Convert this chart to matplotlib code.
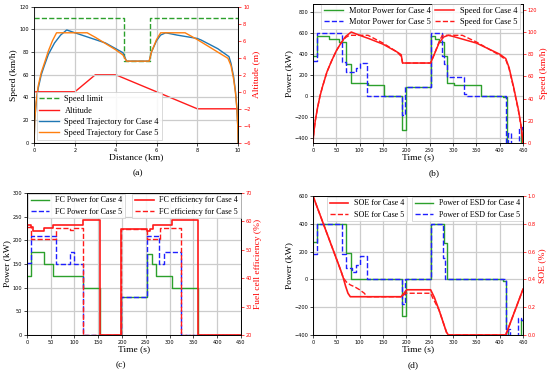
import numpy as np
import matplotlib.pyplot as plt

# ---------------- data ----------------
# (a) speed profile vs distance
lim_x = [0, 4.42, 4.42, 5.70, 5.70, 10]
lim_v = [110, 110, 72, 72, 110, 110]
alt_x = [0, 2, 3, 4, 8, 10]
alt_h = [0, 0, 2, 2, -2, -2]
v4_x = [0, 0.03, 0.1, 0.2, 0.35, 0.5, 0.7, 1.0, 1.3, 1.6, 2.0, 2.5, 3.0, 3.5, 4.0, 4.35,
        4.53, 5.64, 5.75, 6.0, 6.2, 6.45, 7.0, 8.0, 8.2, 9.0, 9.55, 9.65, 9.78, 9.87, 9.94, 9.98, 10]
v4_v = [0, 20, 35, 48, 60, 68, 78, 88, 95, 99.5, 97, 94, 91, 88, 83, 79.5,
        72, 72, 80, 90, 95, 97, 95, 92, 90.5, 83, 76, 70, 58, 45, 30, 15, 0]
v5_x = [0, 0.03, 0.1, 0.2, 0.35, 0.5, 0.7, 0.9, 1.1, 2.6, 3.0, 4.0, 4.35,
        4.53, 5.64, 5.75, 6.0, 6.2, 7.4, 8.0, 9.5, 9.65, 9.78, 9.87, 9.94, 9.98, 10]
v5_v = [0, 20, 36, 50, 62, 70, 81, 90, 97, 97, 93, 82, 77.5,
        72, 72, 80, 91, 97, 97, 91, 74.5, 68, 56, 44, 30, 15, 0]

# (b) motor power (step edges / levels) and speed vs time
mp4_t = [0, 8, 35, 55, 70, 81, 117, 153, 190, 200, 252, 262, 270, 280, 288, 303, 360, 408, 415, 445, 450]
mp4_p = [380, 565, 540, 515, 305, 125, 100, 0, -330, 80, 565, 540, 515, 375, 125, 100, 0, -10, -460, -320]
mp5_t = [0, 8, 62, 70, 92, 101, 116, 190, 198, 252, 277, 281, 288, 323, 330, 413, 418, 425, 441, 447, 450]
mp5_p = [330, 600, 320, 230, 260, 315, 0, -180, 80, 600, 380, 300, 180, 20, 0, -460, -350, -460, -300, -340]
sp4_t = [0, 2, 5, 10, 15, 20, 30, 40, 50, 60, 70, 82, 100, 120, 150, 180, 189, 192, 252,
         260, 270, 280, 290, 300, 350, 400, 413, 420, 430, 440, 446, 450]
sp4_v = [0, 10, 20, 32, 42, 50, 64, 74, 83, 90, 96, 100, 97, 94, 89, 82, 79.5, 72, 72,
         80, 90, 95.5, 97, 96, 90, 80, 76, 68, 50, 30, 15, 0]
sp5_t = [0, 2, 5, 10, 15, 20, 30, 40, 50, 60, 70, 78, 118, 150, 180, 189, 192, 252,
         260, 270, 277, 320, 350, 400, 413, 420, 430, 440, 446, 450]
sp5_v = [0, 10, 20, 32, 42, 50, 64, 74, 83, 90, 95, 97, 97, 90, 82, 78, 72, 72,
         80, 91, 97, 97, 91, 79, 75, 67, 49, 29, 14, 0]

# (c) fuel cell power and efficiency (step edges / levels)
fc4_t = [0, 8, 35, 55, 117, 153, 197, 252, 262, 272, 305, 360, 450]
fc4_p = [125, 175, 150, 125, 100, 0, 80, 172, 150, 125, 100, 0]
fc5_t = [0, 8, 62, 90, 100, 117, 197, 252, 278, 288, 325, 450]
fc5_p = [152, 210, 150, 176, 150, 0, 81, 210, 150, 176, 0]
ef4_t = [0, 8, 12, 35, 55, 117, 153, 197, 252, 258, 265, 305, 360, 450]
ef4_e = [58.6, 58.0, 56.6, 57.5, 58.8, 60.3, 20, 57.4, 56.5, 57.4, 58.8, 60.3, 20]
ef5_t = [0, 8, 62, 90, 100, 117, 197, 252, 280, 325, 450]
ef5_e = [58.0, 53.6, 57.7, 57.1, 57.7, 20, 57.4, 53.6, 57.6, 20]

# (d) ESD power (step edges / levels) and SOE
es4_t = [0, 8, 70, 81, 190, 200, 252, 280, 288, 408, 413, 417, 445, 450]
es4_p = [265, 400, 190, 0, -265, 0, 400, 260, 0, -10, -360, -420, -295]
es5_t = [0, 8, 62, 70, 84, 92, 100, 116, 190, 198, 252, 278, 283, 413, 418, 422, 440, 445, 450]
es5_p = [180, 400, 180, 82, 55, 100, 165, 0, -180, 0, 400, 155, 0, -420, -360, -420, -280, -290]
soe4_t = [0, 20, 40, 60, 65, 70, 75, 80, 189, 201, 252, 260, 270, 280, 286, 290, 413, 450]
soe4_s = [1.0, 0.82, 0.64, 0.46, 0.41, 0.35, 0.30, 0.275, 0.275, 0.325, 0.325, 0.27, 0.18, 0.08, 0.02, 0.0, 0.0, 0.33]
soe5_t = [0, 20, 40, 60, 65, 72, 80, 90, 100, 110, 116, 189, 199, 252, 256, 270, 280, 286, 290, 413, 450]
soe5_s = [1.0, 0.82, 0.64, 0.46, 0.41, 0.38, 0.36, 0.345, 0.325, 0.30, 0.275, 0.275, 0.30, 0.30, 0.27, 0.18, 0.08, 0.02, 0.0, 0.0, 0.33]

GREEN = '#2ca02c'
BLUE = '#1f1fff'
RED = '#ff1a1a'
SERIF = ['Liberation Serif', 'DejaVu Serif']

plt.rcParams['font.family'] = 'DejaVu Sans'
plt.rcParams['xtick.labelsize'] = 3.6
plt.rcParams['ytick.labelsize'] = 3.6
plt.rcParams['xtick.major.size'] = 2
plt.rcParams['ytick.major.size'] = 2
plt.rcParams['xtick.major.width'] = 0.5
plt.rcParams['ytick.major.width'] = 0.5
plt.rcParams['xtick.major.pad'] = 1.5
plt.rcParams['ytick.major.pad'] = 1.5
plt.rcParams['axes.linewidth'] = 0.6

fig = plt.figure(figsize=(5.5, 3.72), dpi=100)


def steps(ax, t, v, **kw):
    # t holds the edges, v the level of each interval
    return ax.step(t, list(v) + [v[-1]], where='post', **kw)


def style(ax, axr, xlabel, ylabel, rlabel):
    ax.grid(True, color='#cccccc', linewidth=0.9)
    ax.set_axisbelow(True)
    ax.set_xlabel(xlabel, fontsize=6.8, family=SERIF, labelpad=0.5)
    ax.set_ylabel(ylabel, fontsize=6.8, family=SERIF, labelpad=1)
    axr.set_ylabel(rlabel, fontsize=6.8, family=SERIF, color='red', labelpad=1.5)
    axr.tick_params(axis='y', colors='red', labelcolor='red')
    axr.spines['right'].set_color('black')


def legend(ax, loc, anchor, handles=None, size=6.0):
    kw = dict(loc=loc, bbox_to_anchor=anchor, prop={'family': SERIF, 'size': size},
              handlelength=2.3, borderpad=0.35, labelspacing=0.4, handletextpad=0.7,
              borderaxespad=0.0, fancybox=False, framealpha=0.85, edgecolor='#cccccc')
    if handles is not None:
        lg = ax.legend(handles, [h.get_label() for h in handles], **kw)
    else:
        lg = ax.legend(**kw)
    lg.get_frame().set_linewidth(0.6)
    return lg


# ---------------- (a) ----------------
ax = fig.add_axes([0.062, 0.616, 0.371, 0.366])
axr = ax.twinx()
l1, = ax.plot(lim_x, lim_v, '--', color=GREEN, lw=1.0, label='Speed limit')
l2, = axr.plot(alt_x, alt_h, color=RED, lw=1.0, label='Altitude')
l3, = ax.plot(v4_x, v4_v, color='#1f77b4', lw=1.0, label='Speed Trajectory for Case 4')
l4, = ax.plot(v5_x, v5_v, color='#ff7f0e', lw=1.0, label='Speed Trajectory for Case 5')
ax.set_xlim(0, 10)
ax.set_ylim(0, 120)
axr.set_ylim(-6, 10)
ax.set_xticks(range(0, 11, 2))
ax.set_yticks(range(0, 121, 20))
axr.set_yticks(range(-6, 11, 2))
style(ax, axr, 'Distance (km)', 'Speed (km/h)', 'Altitude (m)')
axr.set_zorder(ax.get_zorder() - 1)
ax.patch.set_visible(False)
legend(ax, 'lower left', (0.012, 0.02), handles=[l1, l2, l3, l4])
fig.text(0.251, 0.535, '(a)', ha='center', va='center', fontsize=6.8, family=SERIF)

# ---------------- (b) ----------------
ax = fig.add_axes([0.569, 0.616, 0.382, 0.374])
axr = ax.twinx()
steps(ax, mp4_t, mp4_p, color=GREEN, lw=1.0, label='Motor Power for Case 4')
steps(ax, mp5_t, mp5_p, color=BLUE, lw=1.0, ls='--', label='Motor Power for Case 5')
axr.plot(sp4_t, sp4_v, color=RED, lw=1.1, label='Speed for Case 4')
axr.plot(sp5_t, sp5_v, color=RED, lw=1.0, ls='--', label='Speed for Case 5')
ax.set_xlim(0, 450)
ax.set_ylim(-448, 876)
axr.set_ylim(0, 125.5)
ax.set_xticks(range(0, 451, 50))
ax.set_yticks(range(-400, 801, 200))
axr.set_yticks(range(0, 121, 20))
style(ax, axr, 'Time (s)', 'Power (kW)', 'Speed (km/h)')
legend(ax, 'upper left', (0.038, 1.0))
legend(axr, 'upper right', (0.986, 1.0))
fig.text(0.79, 0.535, '(b)', ha='center', va='center', fontsize=6.8, family=SERIF)

# ---------------- (c) ----------------
ax = fig.add_axes([0.049, 0.0995, 0.389, 0.382])
axr = ax.twinx()
steps(ax, fc4_t, fc4_p, color=GREEN, lw=1.0, label='FC Power for Case 4')
steps(ax, fc5_t, fc5_p, color=BLUE, lw=1.0, ls='--', label='FC Power for Case 5')
steps(axr, ef4_t, ef4_e, color=RED, lw=1.2, label='FC efficiency for Case 4')
steps(axr, ef5_t, ef5_e, color=RED, lw=1.0, ls='--', label='FC efficiency for Case 5')
ax.set_xlim(0, 450)
ax.set_ylim(0, 300)
axr.set_ylim(20, 70)
ax.set_xticks(range(0, 451, 50))
ax.set_yticks(range(0, 301, 50))
axr.set_yticks(range(20, 71, 10))
style(ax, axr, 'Time (s)', 'Power (kW)', 'Fuel cell efficiency (%)')
legend(ax, 'upper left', (0.004, 0.995), size=5.8)
legend(axr, 'upper right', (1.0, 0.995), size=5.8)
fig.text(0.22, 0.008, '(c)', ha='center', va='bottom', fontsize=6.8, family=SERIF)

# ---------------- (d) ----------------
ax = fig.add_axes([0.569, 0.0995, 0.382, 0.374])
axr = ax.twinx()
steps(ax, es4_t, es4_p, color=GREEN, lw=1.0, label='Power of ESD for Case 4')
steps(ax, es5_t, es5_p, color=BLUE, lw=1.0, ls='--', label='Power of ESD for Case 5')
axr.plot(soe4_t, soe4_s, color=RED, lw=1.2, label='SOE for Case 4')
axr.plot(soe5_t, soe5_s, color=RED, lw=1.0, ls='--', label='SOE for Case 5')
ax.set_xlim(0, 450)
ax.set_ylim(-400, 600)
axr.set_ylim(0, 1.0)
ax.set_xticks(range(0, 451, 50))
ax.set_yticks(range(-400, 601, 200))
axr.set_yticks(np.arange(0, 1.01, 0.2))
style(ax, axr, 'Time (s)', 'Power (kW)', 'SOE (%)')
legend(axr, 'upper left', (0.067, 0.995), size=5.8)
legend(ax, 'upper right', (1.0, 0.995), size=5.8)
fig.text(0.752, 0.008, '(d)', ha='center', va='bottom', fontsize=6.8, family=SERIF)

fig.savefig('out.png', dpi=100)
